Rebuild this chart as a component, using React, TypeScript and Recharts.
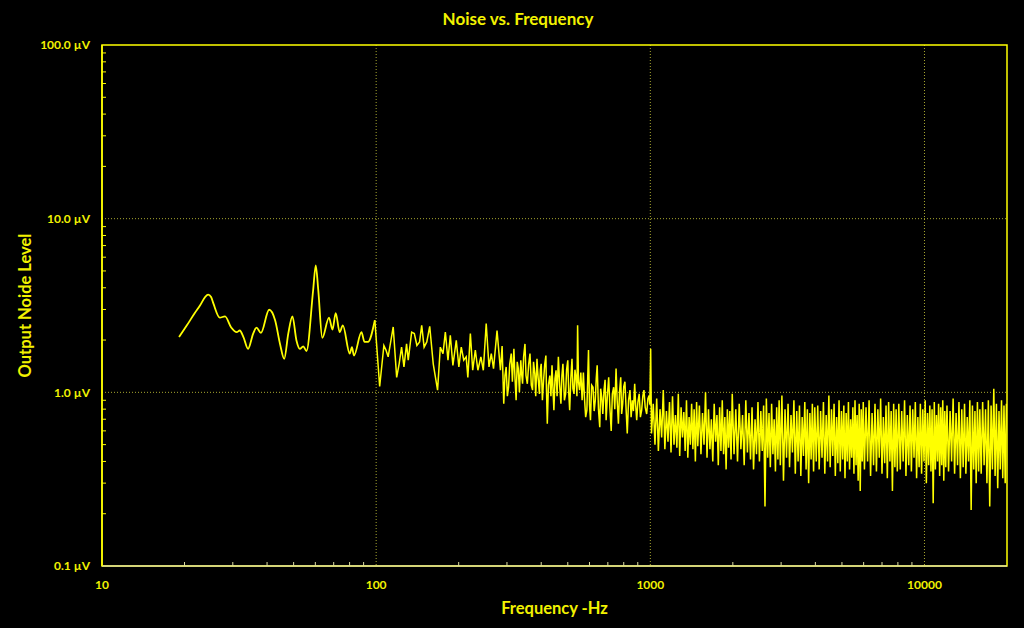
import React from "react";
import { LineChart, Line, XAxis, YAxis, CartesianGrid, ReferenceArea } from "recharts";

// ---- tick values / labels ----
const xMajorTicks = [10, 100, 1000, 10000];
const xMinorTicks = [20, 30, 40, 50, 60, 70, 80, 90, 200, 300, 400, 500, 600, 700, 800, 900, 2000, 3000, 4000, 5000, 6000, 7000, 8000, 9000];
const yMajorTicks = [0.1, 1, 10, 100];
const yMinorTicks = [0.2, 0.3, 0.4, 0.5, 0.6, 0.7, 0.8, 0.9, 2, 3, 4, 5, 6, 7, 8, 9, 20, 30, 40, 50, 60, 70, 80, 90];
const xTickLabels: Record<number, string> = { 10: "10", 100: "100", 1000: "1000", 10000: "10000" };
const yTickLabels: Record<number, string> = { 0.1: "0.1 µV", 1: "1.0 µV", 10: "10.0 µV", 100: "100.0 µV" };

// ---- series: frequency (Hz) and output noise (µV) ----
const lowFreqHz = [19.1, 20.4, 21.8, 22.8, 23.8, 24.4, 25.0, 25.5, 26.9, 28.1, 29.6, 31.0, 31.8, 32.8, 34.1, 35.6, 36.6, 38.0, 40.7, 42.8, 44.6, 46.2, 47.8, 49.5, 51.2, 52.7, 54.2, 55.7, 58.9, 60.2, 61.5, 63.6, 67.3, 69.3, 71.2, 73.6, 75.6, 80.1, 81.6, 83.0, 88.4, 90.7, 93.3, 98.9];
const lowNoiseUV = [2.08, 2.43, 2.86, 3.17, 3.55, 3.65, 3.54, 3.24, 2.69, 2.74, 2.36, 2.22, 2.27, 2.08, 1.78, 2.18, 2.36, 2.2, 2.99, 2.6, 1.9, 1.56, 2.18, 2.74, 1.99, 1.78, 1.84, 1.73, 3.87, 5.39, 3.87, 2.06, 2.69, 2.3, 2.86, 2.22, 2.43, 1.67, 1.82, 1.63, 2.22, 1.95, 1.95, 2.6];

const midFreqHz = [
  103, 106.7, 108.6, 110.6, 115.4, 118.8, 121.3, 123.8, 126.3, 129.1, 130.9, 134.7, 137.8, 140.8, 144, 146.6, 149.6, 153, 156.8, 161.5,
  167.5, 171.4, 175.3, 178.8, 182.8, 186.4, 190.5, 196, 200.3, 204.4, 208.7, 213, 216, 220.6, 225, 230, 235, 241, 246, 252,
  258, 263, 268, 276, 284, 288, 292, 295, 298, 301, 304, 307, 311, 314, 318, 321, 324, 327, 330, 333, 337, 339, 342, 345,
  349, 352, 356, 360, 364, 368, 372, 375, 379, 382, 386, 390, 394, 397, 400, 404, 408, 412, 416, 418, 421, 425,
  430, 434, 438, 441, 445, 449, 453, 457, 462, 467, 472, 476, 480, 486, 491, 495, 500, 504, 508, 513, 518, 522,
  527, 531, 536, 540, 543, 547, 552, 558,
  564, 570, 575, 581, 587, 591, 595, 600, 605, 611, 618, 624, 630, 635, 640, 647, 654, 659, 665, 671,
  678, 684, 690, 697, 705, 712, 720, 727, 735, 742, 750, 757, 765, 772, 780, 786, 793, 800, 808, 816,
  824, 833, 843, 851, 860, 868, 877, 884, 892, 901, 911, 920, 930, 939, 948, 958, 970, 980, 990, 996, 1003,
];
const midNoiseUV = [
  1.08, 1.86, 1.75, 1.6, 2.38, 1.22, 1.46, 1.82, 1.4, 1.9, 1.53, 2.22, 2.18, 1.86, 1.95, 2.43, 1.82, 1.95, 2.4, 1.46,
  1.03, 1.82, 1.67, 2.22, 1.53, 2.13, 1.43, 1.99, 1.4, 1.82, 1.53, 1.6, 1.22, 2.18, 1.34, 1.75, 1.34, 1.6, 1.34, 2.49,
  1.4, 1.67, 1.37, 2.27, 1.34, 1.85, 0.86, 1.25, 1.4, 0.95, 1.07, 1.45, 1.67, 1.15, 1.78, 1.2, 0.9, 1.5, 1.37, 1.0, 1.53, 1.3, 1.12, 1.6,
  1.9, 1.25, 1.12, 1.45, 1.67, 1.1, 1.03, 1.5, 1.28, 0.95, 1.56, 1.2, 0.98, 1.35, 1.46, 0.9, 1.17, 1.45, 1.63, 1.05, 0.66, 1.1,
  1.25, 0.95, 1.43, 1.1, 0.79, 1.2, 1.34, 0.95, 1.6, 1.1, 0.86, 1.25, 1.46, 0.9, 0.98, 1.35, 1.53, 1.0, 0.79, 1.2, 1.56, 1.05,
  0.98, 1.35, 1.2, 0.95, 2.43, 1.15, 1.03, 1.3,
  0.9, 1.3, 0.94, 0.72, 0.79, 1.2, 1.75, 0.85, 0.69, 1.1, 1.07, 0.78, 0.9, 1.2, 1.43, 0.8, 0.63, 1.05, 0.94, 0.75,
  1.03, 1.18, 0.69, 0.95, 1.22, 0.82, 0.6, 0.98, 1.07, 0.8, 1.37, 0.9, 0.66, 1.0, 1.22, 0.75, 0.86, 1.08, 1.15, 0.8,
  0.58, 0.9, 1.03, 0.72, 0.9, 0.78, 1.12, 0.85, 0.69, 0.88, 0.98, 0.72, 0.79, 0.95, 1.03, 0.82, 0.75, 0.92, 0.96, 0.85, 1.78,
];

const highFreqHz = [
  1010, 1025, 1040, 1055, 1070, 1085, 1100, 1115, 1130, 1145, 1160, 1175, 1190, 1205, 1220, 1235, 1250, 1265, 1280, 1295, 1310, 1325, 1340, 1355, 1370, 1385, 1400, 1415, 1430, 1445, 1460, 1475, 1490,
  1510, 1530, 1550, 1570, 1590, 1610, 1630, 1650, 1670, 1690, 1710, 1730, 1750, 1770, 1790, 1810, 1830, 1850, 1870, 1890, 1910, 1930, 1950, 1970, 1990,
  2020, 2050, 2080, 2110, 2140, 2170, 2200, 2230, 2260, 2290, 2320, 2350, 2380, 2410, 2440, 2470, 2500, 2530, 2560, 2590, 2620, 2650, 2680, 2710, 2740, 2770, 2800, 2830, 2860, 2890, 2920, 2950, 2980,
  3020, 3060, 3100, 3140, 3180, 3220, 3260, 3300, 3340, 3380, 3420, 3460, 3500, 3540, 3580, 3620, 3660, 3700, 3740, 3780, 3820, 3860, 3900, 3940, 3980,
  4030, 4080, 4130, 4180, 4230, 4280, 4330, 4380, 4430, 4480, 4530, 4580, 4630, 4680, 4730, 4780, 4830, 4880, 4930, 4980,
  5030, 5080, 5130, 5180, 5230, 5280, 5330, 5380, 5430, 5480, 5530, 5580, 5630, 5680, 5730, 5780, 5830, 5880, 5930, 5980,
  6040, 6120, 6200, 6280, 6360, 6440, 6520, 6600, 6680, 6760, 6840, 6920, 7000, 7080, 7160, 7240, 7320, 7400, 7480, 7560, 7640, 7720, 7800, 7880, 7960,
  8060, 8160, 8260, 8360, 8460, 8560, 8660, 8760, 8860, 8960, 9060, 9160, 9260, 9360, 9460, 9560, 9660, 9760, 9860, 9960,
  10060, 10160, 10260, 10360, 10460, 10560, 10660, 10760, 10860, 10960, 11060, 11160, 11260, 11360, 11460, 11560, 11660, 11760, 11860, 11960,
  12080, 12240, 12400, 12560, 12720, 12880, 13040, 13200, 13360, 13520, 13680, 13840, 14000, 14160, 14320, 14480, 14640, 14800, 14960, 15120, 15280, 15440, 15600, 15760, 15920,
  16100, 16300, 16500, 16700, 16900, 17100, 17300, 17500, 17700, 17900, 18100, 18300, 18500, 18700, 18900, 19100, 19300, 19500, 19700, 19900,
];
const highNoiseUV = [
  0.58, 0.86, 0.5, 0.92, 0.46, 0.8, 0.55, 1.03, 0.47, 0.78, 0.52, 0.88, 0.45, 0.95, 0.5, 0.74, 0.48, 0.98, 0.43, 0.82, 0.55, 0.77, 0.46, 0.9, 0.42, 0.72, 0.5, 0.86, 0.47, 0.8, 0.4, 0.88, 0.49,
  0.84, 0.44, 0.76, 0.5, 1.0, 0.42, 0.8, 0.47, 0.7, 0.4, 0.86, 0.52, 0.74, 0.38, 0.82, 0.46, 0.9, 0.44, 0.72, 0.36, 0.8, 0.48, 0.78, 0.41, 0.98,
  0.44, 0.8, 0.4, 0.86, 0.47, 0.74, 0.38, 0.9, 0.45, 0.76, 0.41, 0.82, 0.36, 0.7, 0.44, 0.88, 0.4, 0.78, 0.46, 0.84, 0.22, 0.92, 0.42, 0.76, 0.37, 0.86, 0.44, 0.7, 0.35, 0.82, 0.41, 0.9, 0.38,
  0.96, 0.31, 0.8, 0.42, 0.86, 0.37, 0.74, 0.45, 0.9, 0.34, 0.78, 0.4, 0.84, 0.33, 0.72, 0.43, 0.88, 0.36, 0.8, 0.3, 0.76, 0.41, 0.86, 0.35, 0.82,
  0.4, 0.84, 0.36, 0.78, 0.42, 0.88, 0.34, 0.74, 0.4, 0.96, 0.37, 0.8, 0.43, 0.86, 0.33, 0.72, 0.39, 0.9, 0.35, 0.78,
  0.41, 0.84, 0.32, 0.76, 0.4, 0.88, 0.36, 0.7, 0.42, 0.82, 0.34, 0.9, 0.38, 0.74, 0.31, 0.86, 0.27, 0.8, 0.4, 0.88,
  0.36, 0.82, 0.4, 0.9, 0.33, 0.76, 0.38, 0.86, 0.35, 0.8, 0.42, 0.92, 0.34, 0.72, 0.39, 0.84, 0.32, 0.88, 0.4, 0.78, 0.27, 0.86, 0.37, 0.8, 0.35,
  0.86, 0.36, 0.78, 0.4, 0.9, 0.33, 0.74, 0.38, 0.84, 0.35, 0.8, 0.42, 0.88, 0.32, 0.72, 0.37, 0.86, 0.34, 0.8, 0.4,
  0.9, 0.3, 0.76, 0.38, 0.84, 0.35, 0.8, 0.23, 0.88, 0.36, 0.74, 0.4, 0.86, 0.33, 0.82, 0.38, 0.9, 0.31, 0.78, 0.37,
  0.84, 0.35, 0.78, 0.4, 0.92, 0.34, 0.76, 0.38, 0.88, 0.32, 0.8, 0.37, 0.86, 0.34, 0.72, 0.4, 0.9, 0.21, 0.84, 0.36, 0.78, 0.3, 0.88, 0.35, 0.8,
  0.34, 0.88, 0.38, 0.8, 0.3, 0.9, 0.22, 0.84, 0.36, 1.05, 0.33, 0.86, 0.28, 0.78, 0.36, 0.9, 0.32, 0.84, 0.3, 0.86,
];

const zip = (fs: number[], vs: number[]) =>
  fs.slice(0, Math.min(fs.length, vs.length)).map((f, i) => ({ f, v: vs[i] }));

const lowData = zip(lowFreqHz, lowNoiseUV);
const restData = [
  { f: lowFreqHz[lowFreqHz.length - 1], v: lowNoiseUV[lowNoiseUV.length - 1] },
  ...zip(midFreqHz, midNoiseUV),
  ...zip(highFreqHz, highNoiseUV),
];

const xAllTicks = [...xMajorTicks, ...xMinorTicks].sort((a, b) => a - b);
const yAllTicks = [...yMajorTicks, ...yMinorTicks].sort((a, b) => a - b);

const YELLOW = "#ffff00";
const TEXT = "#f2f200";
const PALE = "#dcdca0";
const FONT = "Lato, 'Open Sans', sans-serif";

const XTick = (props: any) => {
  const { x, y, payload } = props;
  const v = payload.value;
  if (xTickLabels[v] !== undefined) {
    return (
      <text x={x} y={y} dy="0.71em" textAnchor="middle" fill={TEXT} fontSize={12} fontWeight={700} fontFamily={FONT}>
        {xTickLabels[v]}
      </text>
    );
  }
  // inward minor tick (axis sits 14px above the label anchor)
  return <line x1={x} x2={x} y1={y - 14} y2={y - 18} stroke={PALE} strokeWidth={1} />;
};

const YTick = (props: any) => {
  const { x, y, payload } = props;
  const v = payload.value;
  if (yTickLabels[v] !== undefined) {
    return (
      <text x={x} y={y} dy="0.355em" textAnchor="end" fill={TEXT} fontSize={12} fontWeight={700} fontFamily={FONT}>
        {yTickLabels[v]}
      </text>
    );
  }
  return <line x1={x + 12} x2={x + 16} y1={y} y2={y} stroke={YELLOW} strokeWidth={1} />;
};

export default function App() {
  return (
    <div
      style={{
        position: "fixed",
        left: 0,
        top: 0,
        width: 1024,
        height: 628,
        background: "#000",
        fontFamily: FONT,
        overflow: "hidden",
      }}
    >
      <div
        style={{
          position: "absolute",
          left: 0,
          top: 8,
          width: 1036,
          textAlign: "center",
          color: TEXT,
          fontWeight: 700,
          fontSize: 17,
          lineHeight: "22px",
        }}
      >
        Noise vs. Frequency
      </div>
      <LineChart
        width={1024}
        height={628}
        margin={{ top: 45, right: 17, bottom: 0, left: 0 }}
        style={{ position: "absolute", left: 0, top: 0 }}
      >
        <CartesianGrid
          stroke="#a8a830"
          strokeDasharray="1 2"
          strokeWidth={1}
          horizontalValues={[1, 10]}
          verticalValues={[100, 1000, 10000]}
        />
        <ReferenceArea
          x1={10}
          x2={20000}
          y1={0.1}
          y2={100}
          fill="none"
          stroke={YELLOW}
          strokeWidth={1.5}
          ifOverflow="extendDomain"
        />
        <XAxis
          dataKey="f"
          type="number"
          scale="log"
          domain={[10, 20000]}
          allowDataOverflow
          ticks={xAllTicks}
          interval={0}
          height={62}
          tickLine={false}
          tickSize={8}
          tickMargin={6}
          axisLine={{ stroke: PALE, strokeWidth: 1.5 }}
          tick={XTick}
          label={{
            value: "Frequency -Hz",
            position: "insideBottom",
            offset: 14,
            fill: TEXT,
            fontSize: 16.5,
            fontWeight: 700,
            fontFamily: FONT,
          }}
        />
        <YAxis
          type="number"
          scale="log"
          domain={[0.1, 100]}
          allowDataOverflow
          ticks={yAllTicks}
          interval={0}
          width={102}
          tickLine={false}
          tickSize={8}
          tickMargin={4}
          axisLine={{ stroke: YELLOW, strokeWidth: 1.5 }}
          tick={YTick}
          label={{
            value: "Output Noide Level",
            angle: -90,
            position: "insideLeft",
            offset: 25,
            fill: TEXT,
            fontSize: 16.5,
            fontWeight: 700,
            fontFamily: FONT,
            style: { textAnchor: "middle" },
          }}
        />
        <Line
          data={lowData}
          dataKey="v"
          type="monotone"
          stroke={YELLOW}
          strokeWidth={1.8}
          dot={false}
          activeDot={false}
          isAnimationActive={false}
        />
        <Line
          data={restData}
          dataKey="v"
          type="linear"
          stroke={YELLOW}
          strokeWidth={1.5}
          dot={false}
          activeDot={false}
          isAnimationActive={false}
        />
      </LineChart>
    </div>
  );
}
